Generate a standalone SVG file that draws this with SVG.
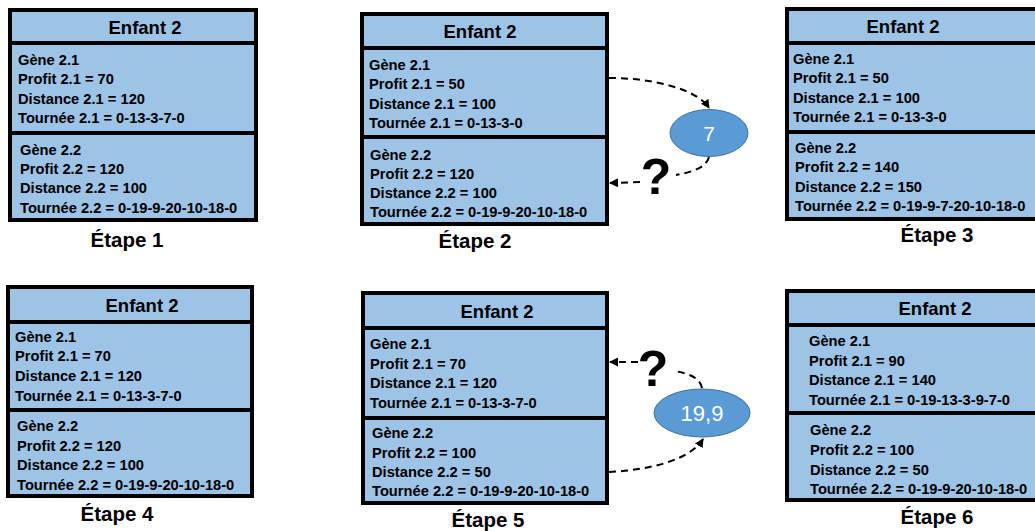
<svg xmlns="http://www.w3.org/2000/svg" width="1035" height="531" viewBox="0 0 1035 531">
<style>
.box{fill:#9DC3E6;stroke:#000;stroke-width:4}
.div{stroke:#000;stroke-width:4}
.hd{font-family:"Liberation Sans",Arial,sans-serif;font-weight:bold;font-size:18.5px;fill:#000;text-anchor:middle}
.tx{font-family:"Liberation Sans",Arial,sans-serif;font-weight:bold;font-size:14.7px;fill:#000}
.et{font-family:"Liberation Sans",Arial,sans-serif;font-weight:bold;font-size:20.5px;fill:#000;text-anchor:middle}
.el{fill:#5B9BD5;stroke:#41719C;stroke-width:1}
.elt{font-family:"Liberation Sans",Arial,sans-serif;font-size:21px;fill:#fff;text-anchor:middle}
.q{font-family:"Liberation Sans",Arial,sans-serif;font-weight:bold;font-size:50px;fill:#000;text-anchor:middle}
.dash{fill:none;stroke:#000;stroke-width:2;stroke-dasharray:7 5}
</style>
<defs>
<marker id="ah" markerUnits="userSpaceOnUse" markerWidth="9" markerHeight="9" refX="8" refY="4.5" orient="auto">
<path d="M0,0 L9,4.5 L0,9 z" fill="#000"/>
</marker>
</defs>

<g id="panel1">
<rect class="box" x="10" y="10" width="246" height="210"/>
<line class="div" x1="10" y1="43" x2="256" y2="43"/>
<line class="div" x1="10" y1="133" x2="256" y2="133"/>
<text class="hd" x="145" y="34">Enfant 2</text>
<text class="tx" x="18" y="65">Gène 2.1</text>
<text class="tx" x="18" y="84">Profit 2.1 = 70</text>
<text class="tx" x="18" y="104">Distance 2.1 = 120</text>
<text class="tx" x="18" y="123">Tournée 2.1 = 0-13-3-7-0</text>
<text class="tx" x="20" y="155">Gène 2.2</text>
<text class="tx" x="20" y="174">Profit 2.2 = 120</text>
<text class="tx" x="20" y="193">Distance 2.2 = 100</text>
<text class="tx" x="20" y="213">Tournée 2.2 = 0-19-9-20-10-18-0</text>
<text class="et" x="127" y="247">Étape 1</text>
</g>

<g id="panel2">
<rect class="box" x="362" y="14" width="245" height="210"/>
<line class="div" x1="362" y1="48" x2="607" y2="48"/>
<line class="div" x1="362" y1="137" x2="607" y2="137"/>
<text class="hd" x="480" y="38">Enfant 2</text>
<text class="tx" x="369" y="70">Gène 2.1</text>
<text class="tx" x="369" y="89">Profit 2.1 = 50</text>
<text class="tx" x="369" y="109">Distance 2.1 = 100</text>
<text class="tx" x="369" y="128">Tournée 2.1 = 0-13-3-0</text>
<text class="tx" x="370" y="160">Gène 2.2</text>
<text class="tx" x="370" y="179">Profit 2.2 = 120</text>
<text class="tx" x="370" y="198">Distance 2.2 = 100</text>
<text class="tx" x="370" y="217">Tournée 2.2 = 0-19-9-20-10-18-0</text>
<text class="et" x="475" y="248">Étape 2</text>
</g>

<g id="node7">
<ellipse class="el" cx="709" cy="133" rx="39" ry="23.5"/>
<text class="elt" x="709" y="141">7</text>
</g>

<g id="panel3">
<rect class="box" x="787" y="9" width="260" height="210"/>
<line class="div" x1="787" y1="43" x2="1040" y2="43"/>
<line class="div" x1="787" y1="132" x2="1040" y2="132"/>
<text class="hd" x="903" y="33">Enfant 2</text>
<text class="tx" x="793" y="64">Gène 2.1</text>
<text class="tx" x="793" y="83">Profit 2.1 = 50</text>
<text class="tx" x="793" y="103">Distance 2.1 = 100</text>
<text class="tx" x="793" y="122">Tournée 2.1 = 0-13-3-0</text>
<text class="tx" x="795" y="153">Gène 2.2</text>
<text class="tx" x="795" y="172">Profit 2.2 = 140</text>
<text class="tx" x="795" y="192">Distance 2.2 = 150</text>
<text class="tx" x="795" y="211">Tournée 2.2 = 0-19-9-7-20-10-18-0</text>
<text class="et" x="937" y="242">Étape 3</text>
</g>

<g id="panel4">
<rect class="box" x="8" y="287" width="244" height="209"/>
<line class="div" x1="8" y1="322" x2="252" y2="322"/>
<line class="div" x1="8" y1="410" x2="252" y2="410"/>
<text class="hd" x="142" y="312">Enfant 2</text>
<text class="tx" x="15" y="342">Gène 2.1</text>
<text class="tx" x="15" y="361">Profit 2.1 = 70</text>
<text class="tx" x="15" y="381">Distance 2.1 = 120</text>
<text class="tx" x="15" y="401">Tournée 2.1 = 0-13-3-7-0</text>
<text class="tx" x="17" y="431">Gène 2.2</text>
<text class="tx" x="17" y="451">Profit 2.2 = 120</text>
<text class="tx" x="17" y="470">Distance 2.2 = 100</text>
<text class="tx" x="17" y="490">Tournée 2.2 = 0-19-9-20-10-18-0</text>
<text class="et" x="117" y="521">Étape 4</text>
</g>

<g id="panel5">
<rect class="box" x="363" y="293" width="244" height="210"/>
<line class="div" x1="363" y1="328" x2="607" y2="328"/>
<line class="div" x1="363" y1="418" x2="607" y2="418"/>
<text class="hd" x="497" y="318">Enfant 2</text>
<text class="tx" x="370" y="349">Gène 2.1</text>
<text class="tx" x="370" y="369">Profit 2.1 = 70</text>
<text class="tx" x="370" y="388">Distance 2.1 = 120</text>
<text class="tx" x="370" y="408">Tournée 2.1 = 0-13-3-7-0</text>
<text class="tx" x="372" y="438">Gène 2.2</text>
<text class="tx" x="372" y="458">Profit 2.2 = 100</text>
<text class="tx" x="372" y="477">Distance 2.2 = 50</text>
<text class="tx" x="372" y="496">Tournée 2.2 = 0-19-9-20-10-18-0</text>
<text class="et" x="488" y="527">Étape 5</text>
</g>

<g id="node19_9">
<ellipse class="el" cx="702" cy="413" rx="48" ry="24"/>
<text class="elt" x="702" y="421" style="font-size:22px">19,9</text>
</g>

<g id="panel6">
<rect class="box" x="787" y="291" width="260" height="209"/>
<line class="div" x1="787" y1="325" x2="1040" y2="325"/>
<line class="div" x1="787" y1="413" x2="1040" y2="413"/>
<text class="hd" x="935" y="315">Enfant 2</text>
<text class="tx" x="809" y="346">Gène 2.1</text>
<text class="tx" x="809" y="366">Profit 2.1 = 90</text>
<text class="tx" x="809" y="385">Distance 2.1 = 140</text>
<text class="tx" x="809" y="405">Tournée 2.1 = 0-19-13-3-9-7-0</text>
<text class="tx" x="810" y="435">Gène 2.2</text>
<text class="tx" x="810" y="455">Profit 2.2 = 100</text>
<text class="tx" x="810" y="475">Distance 2.2 = 50</text>
<text class="tx" x="810" y="494">Tournée 2.2 = 0-19-9-20-10-18-0</text>
<text class="et" x="937" y="524">Étape 6</text>
</g>

<g id="connectors">
<path class="dash" d="M609,78 C650,78 696,88 709,108" marker-end="url(#ah)"/>
<path class="dash" d="M709,157 C706,168 692,172 676,175"/>
<path class="dash" d="M640,182 L610,183" marker-end="url(#ah)"/>
<path class="dash" d="M702,388 C700,378 690,374 675,371"/>
<path class="dash" d="M638,362 L610,362" marker-end="url(#ah)"/>
<path class="dash" d="M609,472 C650,470 690,460 703,439" marker-end="url(#ah)"/>
<text class="q" x="656" y="194">?</text>
<text class="q" x="653" y="386">?</text>
</g>
</svg>
